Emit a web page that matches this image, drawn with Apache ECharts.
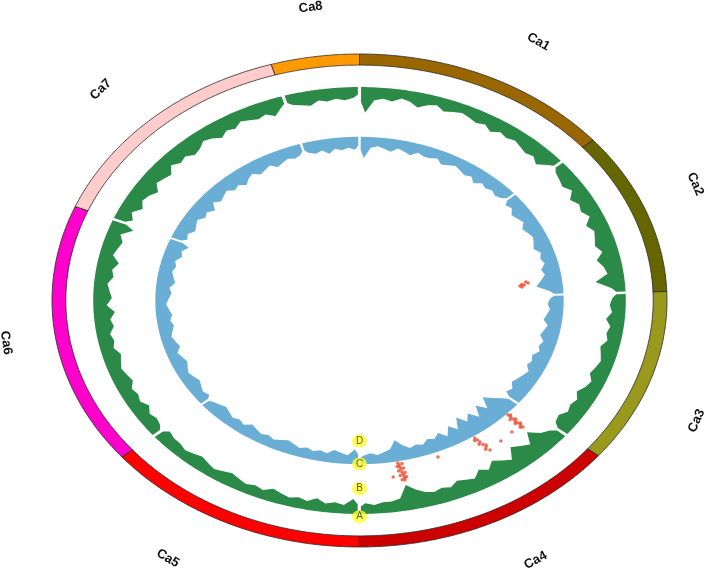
<!DOCTYPE html>
<html><head><meta charset="utf-8">
<script src="https://cdn.jsdelivr.net/npm/echarts@6/dist/echarts.min.js"></script>
<style>html,body{margin:0;padding:0;background:#fff}#c{width:708px;height:571px}</style>
</head><body><div id="c"></div>
<script>
// ---- data ----
const chromNames = ['Ca1','Ca2','Ca3','Ca4','Ca5','Ca6','Ca7','Ca8'];
const chromLengths = [47.7, 37.1, 39.7, 49.2, 48.8, 59.6, 49.1, 16.1];
const chromColors = ['#996600','#666600','#99991e','#cc0000','#ff0000','#ff00cc','#ffcccc','#ff9900'];

const greenTrack = [
  [10,4,3,4,2,3,5,3,2,4,3,2,3,4,3,5,3,4,3,4,5,4,6,3],
  [3,4,5,3,6,4,5,3,6,4,5,6,4,7,5,4,9,3],
  [3,4,3,5,3,4,3,5,4,3,4,5,3,4,6,4,5,4,6,5],
  [4,6,10,5,7,9,4,6,8,5,7,4,5,6,4,5,4,5,7,10,4,3,3,2,3],
  [5,2,3,2,4,2,3,2,3,4,2,3,2,3,4,3,2,3,4,3,2,3,3,4],
  [3,4,3,5,3,4,3,5,4,3,4,5,3,4,3,5,4,6,3,5,4,3,5,4,6,3,4,5,3,7],
  [5,3,6,4,5,7,4,5,6,3,5,4,6,5,3,4,6,4,5,3,4,5,4,6,3],
  [3,4,5,3,4,3,4,3]
];
const blueTrack = [
  [8,3,2,3,4,2,3,4,2,3,3,2,4,3,2,3,4,3,5,3,4,3,4,3],
  [4,3,5,4,3,5,4,3,4,5,3,4,3,5,4,6,8,3],
  [3,4,3,4,5,3,4,5,3,4,3,5,4,5,3,4,5,6,4,5],
  [4,7,10,5,9,4,8,5,9,4,7,3,6,4,5,3,4,3,5,8,4,3,2,3,2],
  [5,2,3,4,2,3,2,3,2,3,4,3,2,3,2,3,4,2,3,2,3,4,3,2],
  [3,2,3,4,3,2,3,4,3,2,4,3,2,3,4,3,4,3,2,3,4,3,5,4,3,4,3,5,4,6],
  [4,3,5,4,3,5,4,6,3,5,4,3,5,4,6,4,3,5,4,3,5,4,3,4,3],
  [3,4,3,5,3,4,3,4]
];
// scatter points: [angle in degrees clockwise from top, radius]
const redDots = [
  [83.6,0.525],[83.3,0.539],[82.6,0.553],[84.1,0.531],[82.1,0.546],[83.0,0.532],
  [133.9,0.670],[133.9,0.682],[133.9,0.693],[134.0,0.705],[134.0,0.716],[134.0,0.728],[134.0,0.739],
  [133.4,0.676],[133.4,0.699],[133.5,0.722],[134.6,0.688],[134.6,0.711],[134.5,0.733],
  [146.1,0.672],[145.9,0.684],[145.7,0.695],[145.5,0.709],[145.3,0.723],[145.0,0.740],
  [146.6,0.680],[146.3,0.701],[144.9,0.716],[145.8,0.730],
  [141.1,0.732],[137.1,0.728],
  [169.3,0.671],[169.1,0.680],[169.0,0.688],[168.9,0.698],[168.8,0.709],[168.6,0.718],[168.5,0.727],[168.5,0.735],[168.5,0.743],
  [168.2,0.676],[168.1,0.694],[168.0,0.713],[167.9,0.731],[169.7,0.684],[169.6,0.703],[169.4,0.722],[169.2,0.740],
  [171.3,0.724],[158.1,0.684]
];
const markers = [['A',180,0.877],['B',180,0.763],['C',180,0.663],['D',180,0.570]];

// ---- geometry / layout ----
const R_OUT = 1.0, R_IN = 0.955, GREEN_R = 0.866, BLUE_R = 0.664;
const BASE = 0.018, K = 0.0085, GAP = 0.35;
const labelPos = [[29.0,1.2],[66.6,1.19],[114,1.2],[151.5,1.2],[210.8,1.218],[261.5,1.162],[315.5,1.2],[352.4,1.2]];
const total = chromLengths.reduce((a,b)=>a+b,0);
const spans = chromLengths.map(l=>l/total*360);
const starts = []; spans.reduce((acc,s,i)=>{starts[i]=acc;return acc+s;},0);
function pt(a, r){ const t=a*Math.PI/180; return [r*Math.sin(t), r*Math.cos(t)]; }

function ringItem(params, api){
  const i = api.value(0);
  const a0 = starts[i], a1 = starts[i]+spans[i], m = 80;
  const pts = [];
  for (let j=0;j<=m;j++) pts.push(api.coord(pt(a0+(a1-a0)*j/m, R_OUT)));
  for (let j=m;j>=0;j--) pts.push(api.coord(pt(a0+(a1-a0)*j/m, R_IN)));
  const la = labelPos[i][0];
  const p = api.coord(pt(la, labelPos[i][1]));
  const rot = (la>90 && la<270) ? la-180 : la;
  return {type:'group', children:[
    {type:'polygon', shape:{points:pts}, style:{fill:chromColors[i], stroke:'#2a2a2a', lineWidth:0.8}},
    {type:'text', x:p[0], y:p[1], rotation:-rot*Math.PI/180,
     style:{text:chromNames[i], fill:'#111', font:'bold 13px "Liberation Sans", Arial, sans-serif', align:'center', verticalAlign:'middle'}}
  ]};
}
function histItem(track, Rb, color){
  return function(params, api){
    const i = api.value(0);
    const vals = track[i];
    const a0 = starts[i]+GAP, a1 = starts[i]+spans[i]-GAP;
    const n = vals.length, step = (a1-a0)/n, m = 60;
    const pts = [];
    for (let j=0;j<=m;j++) pts.push(api.coord(pt(a0+(a1-a0)*j/m, Rb)));
    pts.push(api.coord(pt(a1, Rb-BASE-vals[n-1]*K*0.5)));
    for (let j=n-1;j>=0;j--) pts.push(api.coord(pt(a0+(j+0.5)*step, Rb-BASE-vals[j]*K)));
    pts.push(api.coord(pt(a0, Rb-BASE-vals[0]*K*0.5)));
    return {type:'polygon', shape:{points:pts}, style:{fill:color}};
  };
}
const idxData = chromNames.map((n,i)=>[i,0]);

const chart = echarts.init(document.getElementById('c'), null, {renderer:'canvas'});
chart.setOption({
  animation:false,
  backgroundColor:'#fff',
  grid:{left:52, top:54, width:615, height:493},
  xAxis:{type:'value', min:-1, max:1, show:false},
  yAxis:{type:'value', min:-1, max:1, show:false},
  series:[
    {type:'custom', coordinateSystem:'cartesian2d', clip:false, data:idxData, renderItem:ringItem, silent:true},
    {type:'custom', coordinateSystem:'cartesian2d', clip:false, data:idxData, renderItem:histItem(greenTrack, GREEN_R, '#2b8a47'), silent:true},
    {type:'custom', coordinateSystem:'cartesian2d', clip:false, data:idxData, renderItem:histItem(blueTrack, BLUE_R, '#6aaed6'), silent:true},
    {type:'scatter', symbol:'circle', symbolSize:3.5, itemStyle:{color:'#f04a32'}, silent:true,
     data:redDots.map(d=>pt(d[0], d[1]))},
    {type:'scatter', symbol:'circle', symbolSize:[15,13], itemStyle:{color:'#ffff2e'}, silent:true, z:5,
     data:markers.map(m=>({value:pt(m[1], m[2]), name:m[0]})),
     label:{show:true, position:'inside', formatter:'{b}', color:'#333', fontSize:10, fontFamily:'Liberation Sans'}}
  ]
});
</script></body></html>
